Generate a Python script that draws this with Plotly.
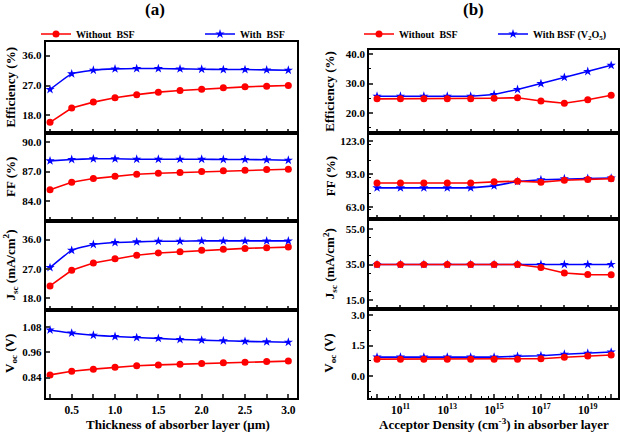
import math
import plotly.graph_objects as go

# ---------------- data ----------------
thickness = [0.25, 0.5, 0.75, 1.0, 1.25, 1.5, 1.75, 2.0, 2.25, 2.5, 2.75, 3.0]
eff_a_wo = [15.9, 20.2, 22.0, 23.3, 24.25, 25.0, 25.5, 25.9, 26.3, 26.6, 26.8, 27.0]
eff_a_w = [25.8, 30.5, 31.6, 32.0, 32.1, 32.1, 32.0, 31.9, 31.8, 31.8, 31.7, 31.6]
ff_a_wo = [85.17, 85.92, 86.29, 86.53, 86.73, 86.83, 86.9, 87.0, 87.07, 87.14, 87.2, 87.24]
ff_a_w = [88.08, 88.22, 88.29, 88.29, 88.25, 88.25, 88.25, 88.25, 88.22, 88.22, 88.19, 88.15]
jsc_a_wo = [21.8, 26.6, 28.8, 30.1, 31.2, 31.9, 32.3, 32.7, 33.0, 33.3, 33.5, 33.7]
jsc_a_w = [27.4, 32.7, 34.5, 35.1, 35.3, 35.5, 35.5, 35.6, 35.6, 35.6, 35.6, 35.6]
voc_a_wo = [0.853, 0.870, 0.880, 0.889, 0.896, 0.900, 0.903, 0.907, 0.910, 0.913, 0.916, 0.918]
voc_a_w = [1.065, 1.050, 1.040, 1.034, 1.029, 1.025, 1.020, 1.017, 1.014, 1.011, 1.009, 1.007]

density = [1e10, 1e11, 1e12, 1e13, 1e14, 1e15, 1e16, 1e17, 1e18, 1e19, 1e20]
eff_b_wo = [24.8, 24.8, 24.8, 24.8, 24.8, 25.0, 25.2, 24.1, 23.3, 24.5, 26.0]
eff_b_w = [25.7, 25.7, 25.7, 25.7, 25.7, 26.3, 28.0, 30.0, 32.1, 34.1, 36.2]
ff_b_wo = [84.7, 84.7, 84.7, 84.7, 84.7, 85.7, 86.3, 85.4, 87.2, 87.9, 88.5]
ff_b_w = [80.2, 80.2, 80.2, 80.2, 80.2, 82.0, 86.0, 87.6, 88.5, 88.8, 89.1]
jsc_b_wo = [35.0, 35.0, 35.0, 35.0, 35.0, 35.0, 35.0, 33.3, 30.2, 29.3, 29.2]
jsc_b_w = [35.0, 35.0, 35.0, 35.0, 35.0, 35.0, 35.0, 35.0, 35.0, 35.0, 35.0]
voc_b_wo = [0.83, 0.83, 0.83, 0.83, 0.83, 0.83, 0.83, 0.85, 0.92, 0.98, 1.03]
voc_b_w = [0.93, 0.93, 0.93, 0.93, 0.93, 0.93, 0.97, 1.00, 1.07, 1.12, 1.18]

a_tick_labels = ["0.5", "1.0", "1.5", "2.0", "2.5", "3.0"]
b_tick_exponents = [11, 13, 15, 17, 19]

# ---------------- styling ----------------
FONT = '"Liberation Serif", "Times New Roman", Times, serif'
RED = "#ff0000"
BLUE = "#0000ff"
W, H = 620, 432

def py(p):
    return 1 - p / H

xa_dom = [45.7 / W, 297 / W]
xb_dom = [369.3 / W, 617.5 / W]
ya_bounds = [42, 133, 221, 310, 398]
yb_bounds = [50, 133.3, 219.3, 309, 398.3]

a_ranges = [[12.7, 40.1], [82.0, 90.9], [14.4, 41.7], [0.744, 1.159]]
a_ticks = [[18.0, 27.0, 36.0], [84.0, 87.0, 90.0], [18.0, 27.0, 36.0], [0.84, 0.96, 1.08]]
a_fmt = [".1f", ".1f", ".1f", ".2f"]
b_ranges = [[13.1, 41.4], [51.5, 130.0], [9.9, 60.5], [-1.1, 3.3]]
b_ticks = [[20.0, 30.0, 40.0], [63.0, 93.0, 123.0], [15.0, 35.0, 55.0], [0.0, 1.5, 3.0]]
b_minor = [5, 15, 10, 0.75]

a_series = [(eff_a_wo, eff_a_w), (ff_a_wo, ff_a_w), (jsc_a_wo, jsc_a_w), (voc_a_wo, voc_a_w)]
b_series = [(eff_b_wo, eff_b_w), (ff_b_wo, ff_b_w), (jsc_b_wo, jsc_b_w), (voc_b_wo, voc_b_w)]

y_titles = ["Efficiency (%)", "FF (%)", "J<sub>sc</sub> (mA/cm<sup>2</sup>)", "V<sub>oc</sub> (V)"]

a_ticktext = [f"{v:.1f}" if f"{v:.1f}" in a_tick_labels else "" for v in thickness]
b_ticktext = []
for d in density:
    e = round(math.log10(d))
    b_ticktext.append(f"10<sup>{e}</sup>" if e in b_tick_exponents else "")
b_minor_vals = [k * 10.0 ** e for e in range(9, 21) for k in (3.0, 6.0)]

fig = go.Figure()
layout = {}
tickfont = dict(family=FONT, size=11, color="black", weight="bold")
xtickfont = dict(family=FONT, size=11.5, color="black", weight="bold")

for i in range(4):
    # left panel
    n = i + 1
    xs = "x" if n == 1 else f"x{n}"
    ys = "y" if n == 1 else f"y{n}"
    wo, w = a_series[i]
    fig.add_trace(go.Scatter(x=thickness, y=wo, xaxis=xs, yaxis=ys, mode="lines+markers",
                             line=dict(color=RED, width=1.6), marker=dict(symbol="circle", size=7, color=RED),
                             name="Without  BSF", showlegend=(i == 0), legend="legend"))
    fig.add_trace(go.Scatter(x=thickness, y=w, xaxis=xs, yaxis=ys, mode="lines+markers",
                             line=dict(color=BLUE, width=1.6, shape="spline", smoothing=0.4),
                             marker=dict(symbol="star", size=7, color=BLUE),
                             name="With  BSF", showlegend=(i == 0), legend="legend2"))
    xk = "xaxis" if n == 1 else f"xaxis{n}"
    yk = "yaxis" if n == 1 else f"yaxis{n}"
    layout[xk] = dict(domain=xa_dom, anchor=ys, range=[0.2, 3.1],
                      tickvals=thickness, ticktext=a_ticktext,
                      showticklabels=(i == 3), ticks="inside", ticklen=4, tickwidth=1.5,
                      showline=True, linewidth=2, linecolor="black", mirror=True,
                      showgrid=False, zeroline=False, tickfont=xtickfont, automargin=False)
    if n > 1:
        layout[xk]["matches"] = "x"
    layout[yk] = dict(domain=[py(ya_bounds[i + 1]), py(ya_bounds[i])], anchor=xs, range=a_ranges[i],
                      tickvals=a_ticks[i], tickformat=a_fmt[i], ticks="inside", ticklen=4, tickwidth=1.5,
                      showline=True, linewidth=2, linecolor="black", mirror=True,
                      showgrid=False, zeroline=False, tickfont=tickfont, automargin=False)
    # right panel (blue drawn first so the red series sits on top, as in the reference)
    m = i + 5
    xs2 = f"x{m}"
    ys2 = f"y{m}"
    wo, w = b_series[i]
    fig.add_trace(go.Scatter(x=density, y=w, xaxis=xs2, yaxis=ys2, mode="lines+markers",
                             line=dict(color=BLUE, width=1.6), marker=dict(symbol="star", size=7, color=BLUE),
                             name="With BSF (V<sub>2</sub>O<sub>5</sub>)", showlegend=(i == 0), legend="legend4"))
    fig.add_trace(go.Scatter(x=density, y=wo, xaxis=xs2, yaxis=ys2, mode="lines+markers",
                             line=dict(color=RED, width=1.6), marker=dict(symbol="circle", size=7, color=RED),
                             name="Without  BSF", showlegend=(i == 0), legend="legend3"))
    layout[f"xaxis{m}"] = dict(domain=xb_dom, anchor=ys2, type="log", range=[9.67, 20.27],
                               tickvals=density, ticktext=b_ticktext,
                               showticklabels=(i == 3), ticks="inside", ticklen=4, tickwidth=1.5,
                               minor=dict(ticks="inside", ticklen=2, tickwidth=1, tickcolor="black",
                                          tickvals=b_minor_vals),
                               showline=True, linewidth=2, linecolor="black", mirror=True,
                               showgrid=False, zeroline=False, tickfont=xtickfont, automargin=False)
    if m > 5:
        layout[f"xaxis{m}"]["matches"] = "x5"
    layout[f"yaxis{m}"] = dict(domain=[py(yb_bounds[i + 1]), py(yb_bounds[i])], anchor=xs2, range=b_ranges[i],
                               tickvals=b_ticks[i], tickformat=".1f", ticks="inside", ticklen=4, tickwidth=1.5,
                               minor=dict(ticks="inside", ticklen=2, tickwidth=1, dtick=b_minor[i], tickcolor="black"),
                               showline=True, linewidth=2, linecolor="black", mirror=True,
                               showgrid=False, zeroline=False, tickfont=tickfont, automargin=False)

annotations = []
title_font = dict(family=FONT, size=13, color="black", weight="bold")
for i in range(4):
    ca = (ya_bounds[i] + ya_bounds[i + 1]) / 2
    cb = (yb_bounds[i] + yb_bounds[i + 1]) / 2
    annotations.append(dict(text=y_titles[i], x=10 / W, y=py(ca), xref="paper", yref="paper",
                            textangle=-90, showarrow=False, font=title_font, xanchor="center", yanchor="middle"))
    annotations.append(dict(text=y_titles[i], x=330 / W, y=py(cb), xref="paper", yref="paper",
                            textangle=-90, showarrow=False, font=title_font, xanchor="center", yanchor="middle"))
annotations.append(dict(text="Thickness of absorber layer (μm)", x=178 / W, y=py(424.5), xref="paper", yref="paper",
                        showarrow=False, font=title_font, xanchor="center", yanchor="middle"))
annotations.append(dict(text="Acceptor Density (cm<sup>-3</sup>) in absorber layer", x=494 / W, y=py(424),
                        xref="paper", yref="paper", showarrow=False, font=title_font,
                        xanchor="center", yanchor="middle"))
annotations.append(dict(text="(a)", x=155 / W, y=py(10), xref="paper", yref="paper", showarrow=False,
                        font=dict(family=FONT, size=17, color="black", weight="bold"),
                        xanchor="center", yanchor="middle"))
annotations.append(dict(text="(b)", x=473 / W, y=py(10), xref="paper", yref="paper", showarrow=False,
                        font=dict(family=FONT, size=17, color="black", weight="bold"),
                        xanchor="center", yanchor="middle"))

legfont = dict(family=FONT, size=10, color="black", weight="bold")

def leg(xpx):
    return dict(orientation="h", x=xpx / W, y=py(34), xanchor="left", yanchor="middle",
                font=legfont, itemwidth=30, bgcolor="rgba(0,0,0,0)", borderwidth=0)

fig.update_layout(
    width=W, height=H, margin=dict(l=0, r=0, t=0, b=0, pad=0, autoexpand=False),
    paper_bgcolor="white", plot_bgcolor="white",
    annotations=annotations,
    legend=leg(36), legend2=leg(200), legend3=leg(359), legend4=leg(493),
    **layout,
)

fig.write_html("out.html", config={"displayModeBar": False, "responsive": False},
               post_script="document.body.style.margin='0';document.body.style.padding='0';"
                           "document.body.style.overflow='hidden';")
